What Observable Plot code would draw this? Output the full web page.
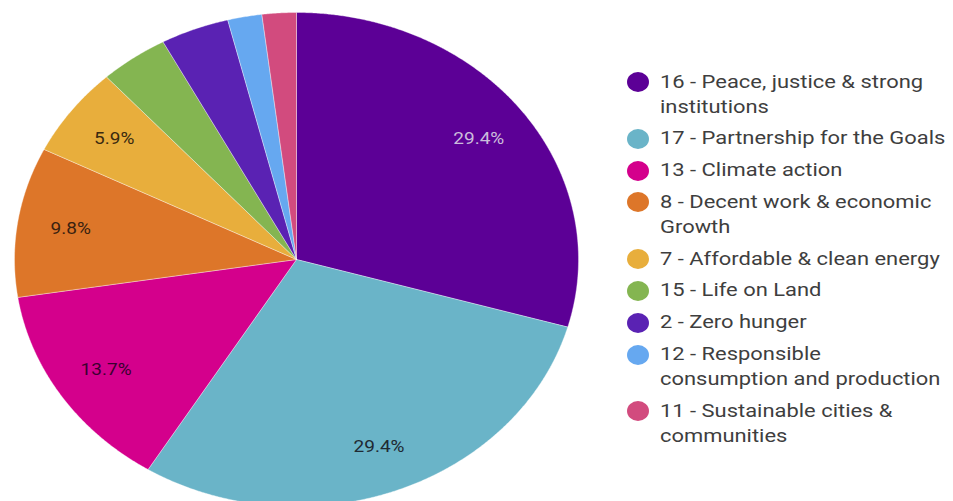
<!DOCTYPE html>
<html>
<head>
<meta charset="utf-8">
<script src="https://cdn.jsdelivr.net/npm/d3@7"></script>
<script src="https://cdn.jsdelivr.net/npm/@observablehq/plot@0.6"></script>
<style>
  html, body { margin: 0; padding: 0; background: #fff; }
  #wrap { position: relative; width: 953px; height: 501px; overflow: hidden; font-family: Roboto, "Noto Sans", sans-serif; }
  #chart { position: absolute; left: 0; top: 0; }
  #legend { position: absolute; left: 627px; top: 69.5px; width: 326px; }
  .item { display: flex; align-items: flex-start; margin-bottom: 6.8px; }
  .sw { flex: none; width: 22px; height: 20px; border-radius: 50%; margin-top: 2.5px; margin-right: 11px; }
  .lab { display: inline-block; font-size: 18.5px; line-height: 25px; color: #3e3e3e; white-space: pre; transform: scaleX(1.185); transform-origin: 0 0; }
</style>
</head>
<body>
<div id="wrap"><div id="chart"></div><div id="legend"></div></div>
<script>
const goals = [
  "16 - Peace, justice & strong institutions",
  "17 - Partnership for the Goals",
  "13 - Climate action",
  "8 - Decent work & economic Growth",
  "7 - Affordable & clean energy",
  "15 - Life on Land",
  "2 - Zero hunger",
  "12 - Responsible consumption and production",
  "11 - Sustainable cities & communities"
];
// legend labels as wrapped in the reference
const legendText = [
  "16 - Peace, justice & strong\ninstitutions",
  "17 - Partnership for the Goals",
  "13 - Climate action",
  "8 - Decent work & economic\nGrowth",
  "7 - Affordable & clean energy",
  "15 - Life on Land",
  "2 - Zero hunger",
  "12 - Responsible\nconsumption and production",
  "11 - Sustainable cities &\ncommunities"
];
const counts = [15, 15, 7, 5, 3, 2, 2, 1, 1];
const colors = ["#5c0096", "#6ab4c8", "#d4008c", "#dd7629", "#e8ae3c", "#84b551", "#5a22b3", "#66a8f0", "#d24b7e"];
const labelColors = ["#cbbcdc", "#1f2a33", "#3a0030", "#3a2210", "#3a2a10", "#222", "#222", "#222", "#222"];

const total = d3.sum(counts);
const pie = d3.pie().sort(null).value(d => d.count)(goals.map((name, i) => ({name, count: counts[i], i})));

// polygon outline for each slice (angle measured clockwise from 12 o'clock)
const outline = [];
for (const s of pie) {
  outline.push({name: s.data.name, x: 0, y: 0});
  const n = Math.max(4, Math.ceil((s.endAngle - s.startAngle) / 0.005));
  for (let k = 0; k <= n; k++) {
    const a = s.startAngle + (s.endAngle - s.startAngle) * k / n;
    outline.push({name: s.data.name, x: Math.sin(a), y: Math.cos(a)});
  }
  outline.push({name: s.data.name, x: 0, y: 0});
}
const labels = pie.filter(s => s.data.count / total >= 0.05).map(s => {
  const a = (s.startAngle + s.endAngle) / 2;
  return {x: 0.81 * Math.sin(a), y: 0.81 * Math.cos(a), text: (100 * s.data.count / total).toFixed(1) + "%", color: labelColors[s.data.i]};
});

const plot = Plot.plot({
  width: 600,
  height: 501,
  margin: 0,
  x: {domain: [-1, 1], range: [14, 578], axis: null},
  y: {domain: [-1, 1], range: [506, 12], axis: null},
  color: {type: "ordinal", domain: goals, range: colors},
  style: {fontFamily: "Roboto, sans-serif"},
  marks: [
    Plot.line(outline, {x: "x", y: "y", z: "name", fill: "name", stroke: "#ffffff", strokeWidth: 0.6, strokeOpacity: 0.6, curve: "linear"}),
    Plot.text(labels, {x: "x", y: "y", text: "text", fill: "color", fontSize: 17, textAnchor: "middle"})
  ]
});
document.getElementById("chart").appendChild(plot);

// widen the slice labels horizontally, like the stretched reference
d3.select(plot).selectAll("g[aria-label='text'] text").each(function() {
  const el = d3.select(this);
  const t = el.attr("transform");
  if (t && t.includes("translate")) {
    el.attr("transform", t + " scale(1.12,1)");
  } else {
    const x = +el.attr("x") || 0, y = +el.attr("y") || 0;
    el.attr("x", null).attr("y", null).attr("transform", `translate(${x},${y}) scale(1.12,1)`);
  }
});

const color = plot.scale("color");
const legend = d3.select("#legend");
goals.forEach((g, i) => {
  const it = legend.append("div").attr("class", "item");
  it.append("div").attr("class", "sw").style("background", color.apply(g));
  it.append("div").append("span").attr("class", "lab").text(legendText[i]);
});
</script>
</body>
</html>
